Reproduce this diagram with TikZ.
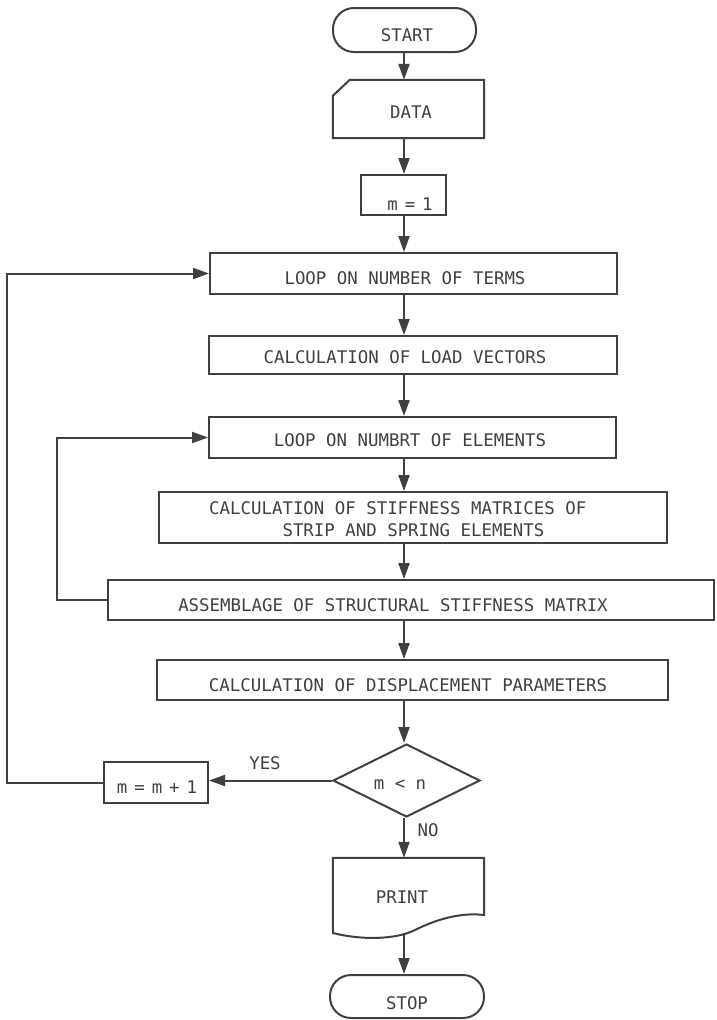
\documentclass[tikz,border=0pt]{standalone}
\usepackage{fontspec}
\newfontfamily\lettering{DejaVu Sans Mono}
\usetikzlibrary{arrows.meta,shapes.geometric,calc}
\definecolor{ink}{RGB}{64,64,64}
\newcommand{\gp}{\hspace{7pt}}
\begin{document}
\begin{tikzpicture}[x=1pt,y=-1pt,
  box/.style={draw=ink,line width=2pt,rectangle,inner sep=0pt},
  shapeonly/.style={rectangle,inner sep=0pt},
  term/.style={box,rounded corners=21pt},
  lbl/.style={text=ink,inner sep=0pt,font=\lettering\fontsize{17.4}{22}\selectfont},
  conn/.style={draw=ink,line width=2pt},
  arr/.style={conn,-{Triangle[length=16pt,width=11pt]}},
]
\useasboundingbox (0,0) rectangle (716,1020);
\coordinate (ax) at (404,0);
\coordinate (outer) at (7,0);
\coordinate (inner) at (57,0);

% shapes
\node[term,minimum width=143pt,minimum height=44pt] (start) at (404.5,30) {};
\node[shapeonly,minimum width=151pt,minimum height=58pt] (data) at (408.5,109) {};
\draw[conn] (data.south west) -- ($(data.north west)+(0,16)$) -- ($(data.north west)+(17,0)$) -- (data.north east) -- (data.south east) -- cycle;
\node[box,minimum width=85pt,minimum height=40pt] (m1) at (403.5,195) {};
\node[box,minimum width=407pt,minimum height=41pt] (lterms) at (413.5,273.5) {};
\node[box,minimum width=408pt,minimum height=38pt] (cload) at (413,355) {};
\node[box,minimum width=407pt,minimum height=41pt] (lelem) at (412.5,437.5) {};
\node[box,minimum width=508pt,minimum height=51pt] (cstiff) at (413,517.5) {};
\node[box,minimum width=606pt,minimum height=40pt] (assem) at (411,600) {};
\node[box,minimum width=511pt,minimum height=40pt] (cdisp) at (412.5,680) {};
\node[draw=ink,line width=2pt,diamond,minimum width=147pt,minimum height=73pt,inner sep=0pt] (dec) at (406.5,780.5) {};
\node[box,minimum width=104pt,minimum height=41pt] (mm1) at (156,782.5) {};
\node[shapeonly,minimum width=151pt,minimum height=77pt] (print) at (408.5,896.5) {};
\draw[conn] (print.north west) -- (print.north east) -- (484,915)
  .. controls (460,912) and (435,920) .. (415,930)
  .. controls (395,940) and (360,940) .. (333,933) -- cycle;
\node[term,minimum width=154pt,minimum height=43pt] (stop) at (407,996.5) {};

% texts
\node[lbl] (tstart) at (407,35) {START};
\node[lbl] (tdata) at (411,112) {DATA};
\node[lbl] (tm1) at (410,204) {m\gp=\gp1};
\node[lbl] (tlterms) at (405,278) {LOOP ON NUMBER OF TERMS};
\node[lbl] (tcload) at (405,357) {CALCULATION OF LOAD VECTORS};
\node[lbl] (tlelem) at (410,440) {LOOP ON NUMBRT OF ELEMENTS};
\node[lbl,anchor=west,align=left] (tcstiff) at (209,519) {CALCULATION OF STIFFNESS MATRICES OF\\\phantom{XXXXXXX}STRIP AND SPRING ELEMENTS};
\node[lbl] (tassem) at (393,605) {ASSEMBLAGE OF STRUCTURAL STIFFNESS MATRIX};
\node[lbl] (tcdisp) at (408,685) {CALCULATION OF DISPLACEMENT PARAMETERS};
\node[lbl] (tdec) at (400,785) {m < n};
\node[lbl] (tmm1) at (157,787) {m\gp=\gp m\gp+\gp1};
\node[lbl] (tyes) at (265,763) {YES};
\node[lbl] (tno) at (428,830) {NO};
\node[lbl] (tprint) at (402,897) {PRINT};
\node[lbl] (tstop) at (407,1003) {STOP};

% connectors
\draw[arr] (start.south -| ax) -- (data.north -| ax);
\draw[arr] (data.south -| ax) -- (m1.north -| ax);
\draw[arr] (m1.south -| ax) -- (lterms.north -| ax);
\draw[arr] (lterms.south -| ax) -- (cload.north -| ax);
\draw[arr] (cload.south -| ax) -- (lelem.north -| ax);
\draw[arr] (lelem.south -| ax) -- (cstiff.north -| ax);
\draw[arr] (cstiff.south -| ax) -- (assem.north -| ax);
\draw[arr] (assem.south -| ax) -- (cdisp.north -| ax);
\draw[arr] (cdisp.south -| ax) -- (dec.north -| ax);
\draw[arr] (dec.south -| ax) -- (print.north -| ax);
\draw[arr] (print.south -| ax) -- (stop.north -| ax);
\draw[arr] (dec.west) -- (dec.west -| mm1.east);
\draw[arr] (mm1.west) -- (mm1.west -| outer) |- (lterms.west);
\draw[arr] (assem.west) -- (assem.west -| inner) |- (lelem.west);
\end{tikzpicture}
\end{document}
